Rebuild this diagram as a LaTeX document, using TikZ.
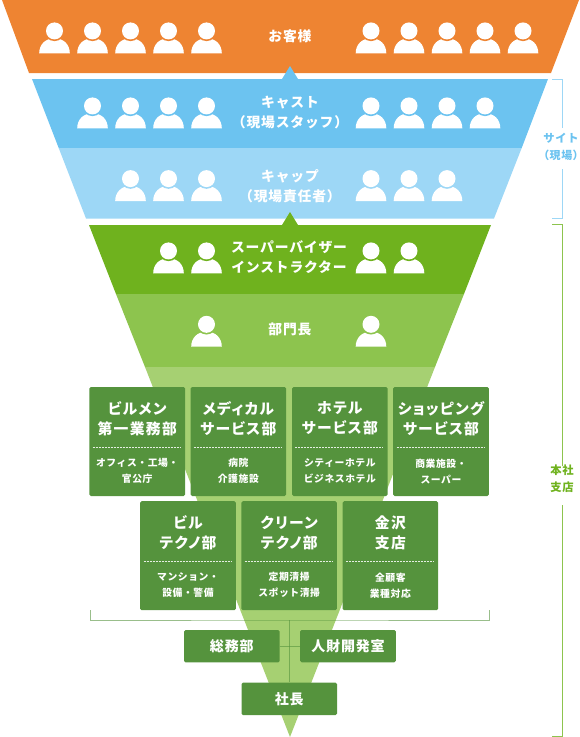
\documentclass[tikz,border=0pt]{standalone}
\usepackage{fontspec}
\newfontfamily\jp[LetterSpace=6]{Noto Sans CJK JP}
\newfontfamily\jpp[LetterSpace=6,RawFeature=+palt]{Noto Sans CJK JP}
\newfontfamily\jpt[LetterSpace=9,RawFeature=+palt]{Noto Sans CJK JP}
\definecolor{corange}{HTML}{EE8432}
\definecolor{cblue}{HTML}{6CC3F0}
\definecolor{cpale}{HTML}{9DD7F6}
\definecolor{cgreen}{HTML}{6FB21E}
\definecolor{cmid}{HTML}{8DC44E}
\definecolor{clight}{HTML}{A6D072}
\definecolor{cbox}{HTML}{55933D}
\tikzset{
  tier/.style={text=white,align=center,inner sep=0pt,font=\jp\bfseries\fontsize{13.8}{20}\selectfont},
  deptbox/.style={fill=cbox,rounded corners=1.5pt,minimum width=95.6pt,minimum height=109pt,inner sep=0pt},
  titletext/.style={text=white,align=center,inner sep=0pt,font=\jpt\bfseries\fontsize{14.8}{20.3}\selectfont},
  subtext/.style={text=white,align=center,inner sep=0pt,font=\jp\bfseries\fontsize{9.8}{16}\selectfont},
  sep/.style={white!85!cbox,line width=0.5pt,dash pattern=on 2pt off 1pt},
  staffbox/.style={fill=cbox,rounded corners=1.5pt,minimum width=95.6pt,minimum height=32.4pt,inner sep=0pt,text=white,font=\jp\bfseries\fontsize{14}{18}\selectfont},
  sidetext/.style={align=center,inner sep=0pt,font=\jp\bfseries\fontsize{11.3}{17}\selectfont},
  link/.style={cbox,opacity=0.6,line width=1pt},
}
\newcommand{\person}[3]{%
  \fill[white] (#1-15.3,#2) .. controls (#1-15.3,#2-9) and (#1-9,#2-15) .. (#1,#2-15) .. controls (#1+9,#2-15) and (#1+15.3,#2-9) .. (#1+15.3,#2) -- cycle;
  \fill[#3] (#1,#2-22.4) circle[radius=10.2];
  \fill[white] (#1,#2-22.4) circle[radius=8.5];
}
\newcommand{\dept}[5]{%
  \node[deptbox] (#1) at (#2,#3) {};
  \node[titletext] (#1t) at ([yshift=23pt]#1.center) {#4};
  \draw[sep] ([xshift=3.5pt,yshift=-6pt]#1.west) -- ([xshift=-4.5pt,yshift=-6pt]#1.east);
  \node[subtext] (#1s) at ([yshift=-29.6pt]#1.center) {#5};
}
\begin{document}
\begin{tikzpicture}[x=1pt,y=-1pt]
\useasboundingbox (0,0) rectangle (580,737);
% funnel
\fill[corange] (2,0) -- (579,0) -- (551,73) -- (29,73) -- cycle;
\fill[cblue] (32,79) -- (548,79) -- (521.7,148) -- (58.7,148) -- cycle;
\fill[cpale] (58.7,148) -- (521.7,148) -- (494,218.5) -- (86,218.5) -- cycle;
\fill[cgreen] (89,225) -- (491,225) -- (464,294) -- (116,294) -- cycle;
\fill[cmid] (116,294) -- (464,294) -- (435,367) -- (145,367) -- cycle;
\fill[clight] (145,367) -- (435,367) -- (290,737) -- cycle;
\fill[cblue] (290,66) -- (298,79) -- (282,79) -- cycle;
\fill[cgreen] (290,212) -- (298,225) -- (282,225) -- cycle;
% people
\foreach \x in {54.5,92.5,130.5,168.5,206.5,371,409,447,485,523} {\person{\x}{53.3}{corange}}
\foreach \x in {92.5,130.5,168.5,206.5,371,409,447,485} {\person{\x}{128.3}{cblue}}
\foreach \x in {130.5,168.5,206.5,371,409,447} {\person{\x}{201}{cpale}}
\foreach \x in {168.5,206.5,371,409} {\person{\x}{273.3}{cgreen}}
\foreach \x in {206.5,371} {\person{\x}{346.7}{cmid}}
% tier labels
\node[tier] (cust) at (290,36) {お客様};
\node[tier] (cast) at (290,112.8) {キャスト\\（現場スタッフ）};
\node[tier] (cap) at (290,186.3) {キャップ\\（現場責任者）};
\node[tier] (sv) at (289,257.3) {スーパーバイザー\\インストラクター};
\node[tier] (head) at (290,329) {部門長};
% department boxes
\dept{a}{137.25}{441.5}{ビルメン\\第一業務部}{オフィス・工場・\\官公庁}
\dept{b}{238.35}{441.5}{メディカル\\サービス部}{病院\\介護施設}
\dept{c}{339.85}{441.5}{ホテル\\サービス部}{シティーホテル\\ビジネスホテル}
\dept{d}{441}{441.5}{ショッピング\\サービス部}{商業施設・\\スーパー}
\dept{e}{188}{555.7}{ビル\\テクノ部}{マンション・\\設備・警備}
\dept{f}{289.15}{555.7}{クリーン\\テクノ部}{定期清掃\\スポット清掃}
\dept{g}{390.35}{555.7}{金沢\\支店}{全顧客\\業種対応}
% staff boxes
\node[staffbox] (somu) at (231.8,646.2) {総務部};
\node[staffbox] (jinzai) at (348,646.2) {人財開発室};
\node[staffbox] (shacho) at (289.3,698.8) {社長};
% connectors
\coordinate (bl) at (90.3,610);
\coordinate (br) at (489,610);
\coordinate (bm) at (289.7,620);
\draw[link] (bl) |- (bm) -| (br);
\draw[link] (bm) -- (bm |- shacho.north);
\draw[link] (somu.east) -- (jinzai.west);
% side brackets
\node[sidetext,text=cblue] (site) at (561,146.5) {サイト\\{\jpp\bfseries\fontsize{11}{17}\selectfont （現場）}};
\node[sidetext,text=cgreen] (hq) at (562,478.5) {本社\\支店};
\coordinate (s1) at (552,79.5);
\coordinate (s2) at (552,218);
\coordinate (h1) at (552,224.5);
\coordinate (h2) at (552,736);
\draw[cpale,line width=1pt] (s1) -- (562.3,79.5) -- (562.3,128);
\draw[cpale,line width=1pt] (s2) -- (562.3,218) -- (562.3,169);
\draw[cmid,line width=1pt] (h1) -- (562.3,224.5) -- (562.3,466);
\draw[cmid,line width=1pt] (h2) -- (562.3,736) -- (562.3,505);
\end{tikzpicture}
\end{document}
